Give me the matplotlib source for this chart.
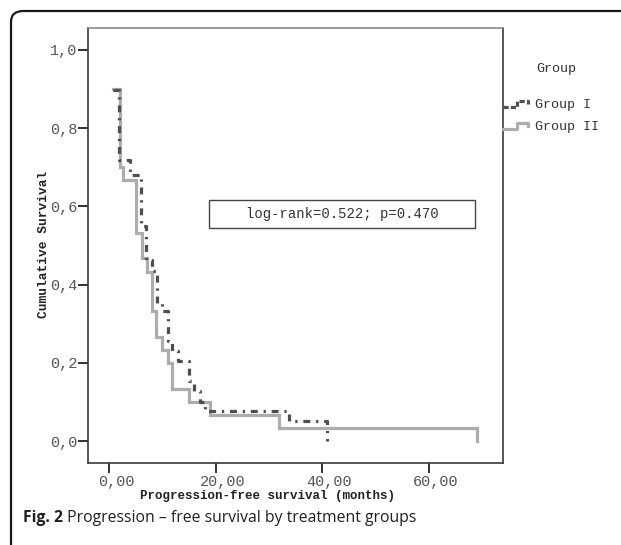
import numpy as np
import matplotlib
matplotlib.use("Agg")
import matplotlib.pyplot as plt
import matplotlib.transforms as mtransforms
from matplotlib.lines import Line2D
from matplotlib.legend_handler import HandlerBase
from matplotlib.patches import FancyBboxPatch, Rectangle

# Kaplan-Meier steps (time in months, cumulative survival)
group1_time = [0.8, 1.9, 4.0, 5.95, 7.0, 8.0, 9.05, 10.0, 11.0, 11.9, 12.9,
               14.9, 16.0, 17.1, 17.9, 33.8, 40.9]
group1_surv = [0.897, 0.718, 0.679, 0.551, 0.462, 0.436, 0.354, 0.333, 0.256,
               0.231, 0.205, 0.154, 0.128, 0.100, 0.077, 0.051, 0.0]

group2_time = [0.8, 2.0, 2.7, 5.0, 6.1, 7.1, 8.0, 8.8, 9.9, 11.0, 11.8, 15.0,
               18.9, 31.8, 68.9]
group2_surv = [0.900, 0.700, 0.667, 0.533, 0.467, 0.433, 0.333, 0.267, 0.233,
               0.200, 0.133, 0.100, 0.067, 0.033, 0.0]

group_labels = ["Group I", "Group II"]
x_ticks = [0, 20, 40, 60]
x_ticklabels = ["0,00", "20,00", "40,00", "60,00"]
y_ticks = [0.0, 0.2, 0.4, 0.6, 0.8, 1.0]
y_ticklabels = ["0,0", "0,2", "0,4", "0,6", "0,8", "1,0"]
stat_text = "log-rank=0.522; p=0.470"
caption_bold = "Fig. 2"
caption_rest = " Progression \u2013 free survival by treatment groups"

mono = "Liberation Mono"
c1 = "#4f4f4f"
c2 = "#adadad"
dash1 = (0, (5.0, 4.2, 1.6, 4.2))

plt.rcParams["lines.scale_dashes"] = False

fig = plt.figure(figsize=(6.21, 5.45), dpi=100)
W, H = 621, 545

# rounded outer frame of the journal figure (runs off the right/bottom edge)
frame = FancyBboxPatch((11 / W, -40 / H), 900 / W, (534 + 40) / H,
                       boxstyle="round,pad=0,rounding_size=0.02",
                       transform=fig.transFigure, fill=False,
                       edgecolor="#1a1a1a", lw=1.6, clip_on=False)
fig.patches.append(frame)

ax = fig.add_axes([88 / W, 1 - 463 / H, (502.7 - 88) / W, (463 - 28) / H])

ax.step(group2_time, group2_surv, where="post", color=c2, lw=2.3,
        solid_joinstyle="miter", zorder=2)
ax.step(group1_time, group1_surv, where="post", color=c1, lw=2.3,
        linestyle=dash1, zorder=3)

ax.set_xlim(-3.94, 73.8)
ax.set_ylim(-0.056, 1.056)
ax.set_xticks(x_ticks)
ax.set_xticklabels(x_ticklabels)
ax.set_yticks(y_ticks)
ax.set_yticklabels(y_ticklabels)
ax.tick_params(length=7, width=1.3, color="#222222", labelsize=11,
               labelcolor="#555555")
ax.tick_params(axis="x", pad=1.5)
ax.tick_params(axis="y", pad=0.5)
shift = mtransforms.ScaledTranslation(0.07, 0, fig.dpi_scale_trans)
for lab in ax.get_xticklabels():
    lab.set_family(mono)
    lab.set_transform(lab.get_transform() + shift)
for lab in ax.get_yticklabels():
    lab.set_family(mono)
for sp in ax.spines.values():
    sp.set_color("#3a3a3a")
    sp.set_linewidth(1.2)
ax.spines["top"].set_color("#8a8a8a")

ax.set_xlabel("Progression-free survival (months)", family=mono,
              fontweight="bold", fontsize=9.0, color="#222222", va="center")
ax.xaxis.set_label_coords((267 - 88) / 414.7, -(496 - 463) / 435)
ax.set_ylabel("Cumulative Survival", family=mono, fontweight="bold",
              fontsize=9.3, color="#222222", va="center")
ax.yaxis.set_label_coords((44 - 88) / 414.7, (463 - 244) / 435)

# statistics box
ax.add_patch(Rectangle(((209 - 88) / 414.7, (463 - 228) / 435),
                       (475 - 209) / 414.7, 28 / 435,
                       transform=ax.transAxes, fill=False,
                       edgecolor="#444444", lw=1.0, clip_on=False))
ax.text((342 - 88) / 414.7, (463 - 214) / 435, stat_text,
        transform=ax.transAxes, family=mono, fontsize=10, color="#333333",
        ha="center", va="center")


class StepHandler(HandlerBase):
    def create_artists(self, legend, orig, xdescent, ydescent, width, height,
                       fontsize, trans):
        xs = np.array([0.0, 0.55, 0.55, 0.95, 0.95]) * width - xdescent
        ys = np.array([0.15, 0.15, 0.75, 0.75, 0.45]) * height - ydescent
        ln = Line2D(xs, ys, color=orig.get_color(), lw=orig.get_linewidth(),
                    linestyle=orig.get_linestyle(), transform=trans)
        return [ln]


h1 = Line2D([], [], color=c1, lw=2.3, linestyle=(0, (3.0, 2.5, 1.5, 2.5)))
h2 = Line2D([], [], color=c2, lw=2.3)
leg = fig.legend([h1, h2], group_labels, loc="upper left",
                 bbox_to_anchor=(496 / W, 1 - 92 / H), frameon=False,
                 handler_map={Line2D: StepHandler()},
                 prop={"family": mono, "size": 9.6}, handlelength=2.0,
                 handletextpad=0.45, labelspacing=0.75, borderpad=0)
for t in leg.get_texts():
    t.set_color("#333333")
fig.text(556 / W, 1 - 69 / H, "Group", family=mono, fontsize=9.6,
         color="#333333", ha="center", va="center")

# caption
t1 = fig.text(23 / W, 1 - 518 / H, caption_bold, family="Open Sans",
              fontweight="bold", fontsize=11.3, color="#231f20", va="center")
fig.canvas.draw()
bb = t1.get_window_extent()
fig.text(bb.x1 / W, 1 - 518 / H, caption_rest, family="Open Sans",
         fontsize=11.3, color="#231f20", va="center")

fig.savefig("out.png", dpi=100)
